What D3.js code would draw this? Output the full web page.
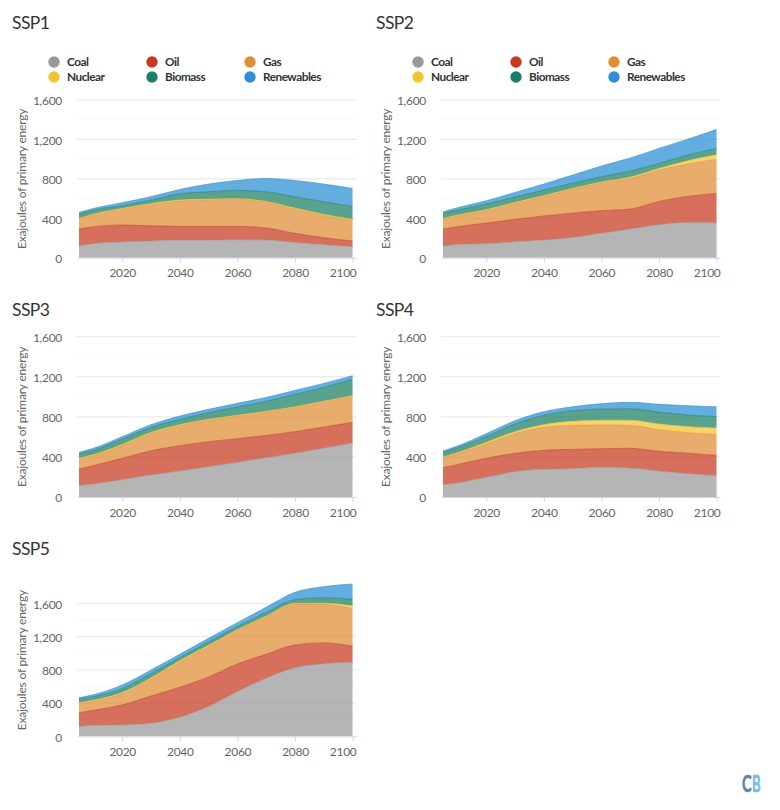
<!DOCTYPE html>
<html>
<head>
<meta charset="utf-8">
<title>SSP primary energy</title>
<script src="https://cdnjs.cloudflare.com/ajax/libs/d3/7.8.5/d3.min.js"></script>
<style>
    html, body { margin: 0; padding: 0; background: #fff; }
    svg { display: block; }
    text { font-family: Lato, "Noto Sans", sans-serif; }
    .title { font-size: 17.5px; fill: #333; letter-spacing: -0.6px; }
    .tick text { font-size: 12px; fill: #666; letter-spacing: -0.3px; }
    .axisTitle { font-size: 12px; fill: #666; letter-spacing: -0.2px; }
    .legendLabel { font-size: 11.8px; font-weight: bold; fill: #333; letter-spacing: -0.5px; }
</style>
</head>
<body>
<svg id="chart" width="780" height="810"></svg>
<script>
// exajoules per source, one value for each year below
const years = [2005, 2010, 2020, 2030, 2040, 2050, 2060, 2070, 2080, 2090, 2100];
const sources = ['Coal', 'Oil', 'Gas', 'Nuclear', 'Biomass', 'Renewables'];
const sourceColors = ['#999999', '#c7391f', '#e08e36', '#f4c430', '#1a7f64', '#2b8fd6'];
const yTicks = [0, 400, 800, 1200, 1600];
const yMinorTicks = [200, 600, 1000, 1400];
const xTicks = [2020, 2040, 2060, 2080, 2100];

const ssp1Coal = [118, 142, 159, 169, 179, 179, 182, 179, 155, 132, 112];
const ssp1Oil = [173, 172, 172, 155, 139, 139, 136, 122, 92, 71, 57];
const ssp1Gas = [101, 119, 159, 213, 257, 270, 274, 264, 246, 226, 213];
const ssp1Nuclear = [7, 8, 10, 11, 10, 7, 6, 6, 10, 10, 7];
const ssp1Biomass = [44, 42, 27, 37, 64, 74, 85, 98, 115, 129, 131];
const ssp1Renewables = [17, 17, 31, 34, 44, 78, 101, 135, 166, 179, 183];

const ssp2Coal = [118, 135, 142, 162, 179, 206, 247, 291, 335, 358, 355];
const ssp2Oil = [173, 179, 210, 227, 244, 247, 230, 202, 236, 264, 297];
const ssp2Gas = [101, 112, 125, 162, 196, 243, 283, 311, 318, 328, 345];
const ssp2Nuclear = [7, 7, 10, 10, 10, 7, 7, 14, 17, 34, 47];
const ssp2Biomass = [51, 50, 57, 54, 57, 54, 54, 61, 50, 57, 65];
const ssp2Renewables = [16, 24, 34, 47, 61, 81, 109, 132, 153, 162, 192];

const ssp3Coal = [116, 130, 173, 220, 259, 303, 346, 392, 436, 486, 539];
const ssp3Oil = [163, 183, 213, 242, 253, 249, 236, 223, 216, 212, 206];
const ssp3Gas = [103, 99, 130, 173, 200, 216, 226, 233, 243, 250, 259];
const ssp3Nuclear = [7, 10, 9, 10, 10, 7, 7, 7, 6, 7, 7];
const ssp3Biomass = [43, 44, 54, 50, 53, 66, 83, 100, 123, 139, 163];
const ssp3Renewables = [14, 20, 23, 27, 33, 34, 37, 39, 40, 40, 37];

const ssp4Coal = [123, 140, 196, 253, 276, 283, 296, 289, 259, 233, 213];
const ssp4Oil = [170, 183, 190, 183, 190, 193, 186, 197, 197, 203, 203];
const ssp4Gas = [99, 109, 143, 196, 229, 239, 236, 229, 216, 206, 209];
const ssp4Nuclear = [7, 10, 16, 20, 27, 40, 47, 50, 56, 60, 63];
const ssp4Biomass = [47, 50, 57, 76, 93, 106, 113, 116, 120, 116, 114];
const ssp4Renewables = [13, 17, 30, 34, 36, 40, 53, 64, 77, 93, 99];

const ssp5Coal = [117, 133, 137, 157, 229, 358, 539, 700, 828, 876, 892];
const ssp5Oil = [168, 181, 241, 329, 362, 358, 333, 289, 273, 250, 197];
const ssp5Gas = [109, 108, 137, 205, 305, 369, 402, 446, 495, 466, 451];
const ssp5Nuclear = [8, 12, 12, 13, 16, 12, 12, 12, 8, 12, 32];
const ssp5Biomass = [48, 44, 48, 52, 37, 41, 37, 48, 44, 68, 80];
const ssp5Renewables = [16, 24, 44, 44, 40, 44, 48, 61, 89, 133, 185];

const svg = d3.select('#chart');
const plotWidth = 279;

// draws one scenario; the legend only appears on the top row
let drawPanel = (name, series, left, top, height, yMax, titleY, hasLegend) => {
    let x = d3.scaleLinear().domain([2004.3, 2101.2]).range([0, plotWidth]);
    let y = d3.scaleLinear().domain([0, yMax]).range([height, 0]);

    svg.append('text')
        .attr('class', 'title')
        .attr('x', left - 65)
        .attr('y', titleY)
        .text(name);

    let g = svg.append('g').attr('transform', `translate(${left},${top})`);

    // grid
    g.selectAll('.minor').data(yMinorTicks.filter(d => d < yMax)).join('line')
        .attr('x1', 0).attr('x2', plotWidth)
        .attr('y1', d => y(d)).attr('y2', d => y(d))
        .attr('stroke', '#f2f2f2')
        .attr('stroke-dasharray', '1,1');
    g.selectAll('.major').data(yTicks.filter(d => d > 0)).join('line')
        .attr('x1', 0).attr('x2', plotWidth)
        .attr('y1', d => y(d)).attr('y2', d => y(d))
        .attr('stroke', '#e6e6e6');

    // stacked areas
    let rows = years.map((year, i) => {
        let row = { year: year };
        sources.forEach((s, j) => { row[s] = series[j][i]; });
        return row;
    });
    let layers = d3.stack().keys(sources)(rows);
    let area = d3.area()
        .x(d => x(d.data.year))
        .y0(d => y(d[0]))
        .y1(d => y(d[1]))
        .curve(d3.curveMonotoneX);
    let topLine = d3.line()
        .x(d => x(d.data.year))
        .y(d => y(d[1]))
        .curve(d3.curveMonotoneX);

    g.selectAll('.layer').data(layers).join('path')
        .attr('d', area)
        .attr('fill', (d, i) => sourceColors[i])
        .attr('fill-opacity', 0.73);
    g.selectAll('.edge').data(layers).join('path')
        .attr('d', topLine)
        .attr('fill', 'none')
        .attr('stroke', (d, i) => sourceColors[i])
        .attr('stroke-opacity', 0.6)
        .attr('stroke-width', 1);

    // axes
    let yAxis = g.append('g')
        .call(d3.axisLeft(y).tickValues(yTicks).tickSize(0).tickPadding(15).tickFormat(d3.format(',')));
    yAxis.select('.domain').remove();
    yAxis.selectAll('.tick text').attr('dy', '0.4em');

    let xAxis = g.append('g')
        .attr('transform', `translate(0,${height})`)
        .call(d3.axisBottom(x).tickValues(xTicks).tickSize(5).tickSizeOuter(0).tickPadding(6).tickFormat(d3.format('d')));
    xAxis.select('.domain').attr('stroke', '#ccd6eb');
    xAxis.selectAll('.tick line').attr('stroke', '#ccd6eb');
    // last label is pulled back so it stays inside the plot
    xAxis.selectAll('.tick text')
        .filter(d => d === 2100)
        .attr('text-anchor', 'end')
        .attr('x', plotWidth - x(2100));

    svg.append('text')
        .attr('class', 'axisTitle')
        .attr('text-anchor', 'middle')
        .attr('transform', `translate(${left - 51},${top + height / 2}) rotate(-90)`)
        .text('Exajoules of primary energy');

    if (hasLegend) {
        let legend = svg.append('g').attr('transform', `translate(${left - 23},62)`);
        let items = legend.selectAll('g').data(sources).join('g')
            .attr('transform', (d, i) => `translate(${(i % 3) * 98},${Math.floor(i / 3) * 15})`);
        items.append('circle')
            .attr('r', 5.7)
            .attr('fill', (d, i) => sourceColors[i]);
        items.append('text')
            .attr('class', 'legendLabel')
            .attr('x', 13)
            .attr('y', 4)
            .text(d => d);
    }
};

drawPanel('SSP1', [ssp1Coal, ssp1Oil, ssp1Gas, ssp1Nuclear, ssp1Biomass, ssp1Renewables], 77, 100, 157.7, 1600, 29, true);
drawPanel('SSP2', [ssp2Coal, ssp2Oil, ssp2Gas, ssp2Nuclear, ssp2Biomass, ssp2Renewables], 441, 100, 157.7, 1600, 29, true);
drawPanel('SSP3', [ssp3Coal, ssp3Oil, ssp3Gas, ssp3Nuclear, ssp3Biomass, ssp3Renewables], 77, 336.7, 160.3, 1600, 316, false);
drawPanel('SSP4', [ssp4Coal, ssp4Oil, ssp4Gas, ssp4Nuclear, ssp4Biomass, ssp4Renewables], 441, 336.7, 160.3, 1600, 316, false);
drawPanel('SSP5', [ssp5Coal, ssp5Oil, ssp5Gas, ssp5Nuclear, ssp5Biomass, ssp5Renewables], 77, 584, 152.3, 1837, 555, false);

// Carbon Brief mark, bottom right: two squeezed letters side by side
[['C', 742, 0.66, '#5b84a6'], ['B', 752, 0.6, '#7db8e8']].forEach(letter => {
    svg.append('text')
        .attr('transform', `translate(${letter[1]},792) scale(${letter[2]},1)`)
        .attr('font-size', 22)
        .attr('font-weight', 'bold')
        .attr('fill', letter[3])
        .attr('stroke', letter[3])
        .attr('stroke-width', 0.6)
        .text(letter[0]);
});
</script>
</body>
</html>
